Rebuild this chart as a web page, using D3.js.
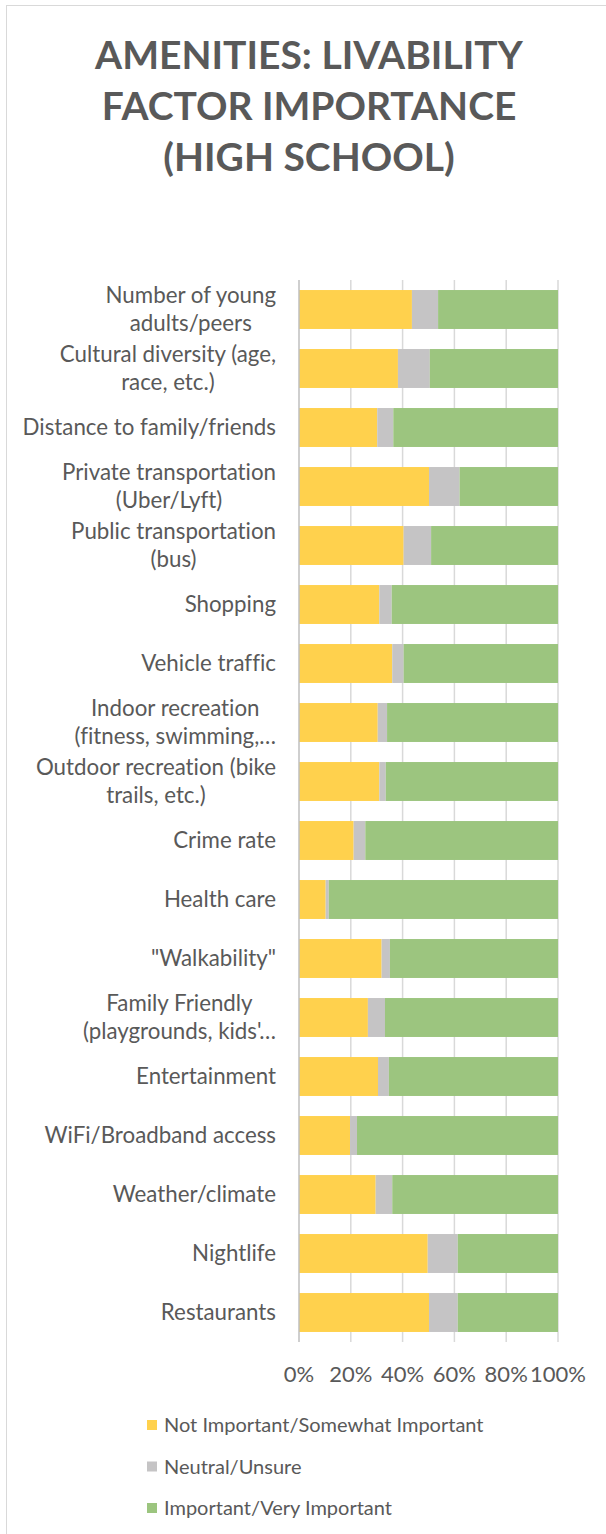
<!DOCTYPE html>
<html>
<head>
<meta charset="utf-8">
<script src="https://cdn.jsdelivr.net/npm/d3@7"></script>
<style>
  body { margin: 0; background: #fff; }
  text { font-family: Lato, "Open Sans", sans-serif; fill: #595959; font-variant-ligatures: none; }
</style>
</head>
<body>
<div id="chart"></div>
<script>
var width = 606;
var height = 1534;

// categories top to bottom, "\n" marks the line break used in the original labels
var categories = [
  "Number of young\nadults/peers",
  "Cultural diversity (age,\nrace, etc.)",
  "Distance to family/friends",
  "Private transportation\n(Uber/Lyft)",
  "Public transportation\n(bus)",
  "Shopping",
  "Vehicle traffic",
  "Indoor recreation\n(fitness, swimming,…",
  "Outdoor recreation (bike\ntrails, etc.)",
  "Crime rate",
  "Health care",
  "\"Walkability\"",
  "Family Friendly\n(playgrounds, kids'…",
  "Entertainment",
  "WiFi/Broadband access",
  "Weather/climate",
  "Nightlife",
  "Restaurants"
];

var notImportant = [43.6, 38.2, 30.2, 50.2, 40.4, 31.0, 36.0, 30.4, 31.0, 21.1, 10.3, 31.9, 26.6, 30.5, 19.7, 29.6, 49.7, 50.2];
var neutral      = [10.1, 12.3,  6.2, 11.8, 10.6,  4.8,  4.4,  3.6,  2.5,  4.5,  1.2,  3.2,  6.6,  4.2,  2.7,  6.4, 11.6, 11.1];
var important    = [46.3, 49.5, 63.6, 38.0, 49.0, 64.2, 59.6, 66.0, 66.5, 74.4, 88.5, 64.9, 66.8, 65.3, 77.6, 64.0, 38.7, 38.7];

var seriesNames = ["Not Important/Somewhat Important", "Neutral/Unsure", "Important/Very Important"];
var seriesColors = ["#FFD14D", "#C5C4C5", "#9CC57F"];
var xTicks = [0, 20, 40, 60, 80, 100];

var rows = categories.map(function (c, i) {
  return { cat: c, a: notImportant[i], b: neutral[i], c: important[i] };
});
var keys = ["a", "b", "c"];
var stacked = d3.stack().keys(keys)(rows);

var svg = d3.select("#chart")
  .append("svg")
  .attr("width", width)
  .attr("height", height);

// chart border
svg.append("rect")
  .attr("x", 6.5).attr("y", 5.5)
  .attr("width", 620).attr("height", 1540)
  .attr("fill", "#fff")
  .attr("stroke", "#D9D9D9");

// title
var titleLines = ["AMENITIES: LIVABILITY", "FACTOR IMPORTANCE", "(HIGH SCHOOL)"];
svg.append("g").selectAll("text")
  .data(titleLines)
  .enter()
  .append("text")
  .attr("x", 309)
  .attr("y", function (d, i) { return 55 + i * 51; })
  .attr("dy", "0.35em")
  .attr("text-anchor", "middle")
  .attr("font-size", "39px")
  .attr("font-weight", "bold")
  .text(function (d) { return d; });

var xScale = d3.scaleLinear().domain([0, 100]).range([299, 558]);
var yScale = d3.scaleBand().domain(categories).range([280, 1342])
  .paddingInner(0.34).paddingOuter(0.17);

// gridlines
svg.append("g").selectAll("line")
  .data(xTicks.slice(1))
  .enter()
  .append("line")
  .attr("x1", function (d) { return xScale(d); })
  .attr("x2", function (d) { return xScale(d); })
  .attr("y1", 280).attr("y2", 1342)
  .attr("stroke", "#D9D9D9")
  .attr("stroke-width", 1.5);

// bars
svg.append("g").selectAll("g")
  .data(stacked)
  .enter()
  .append("g")
  .attr("fill", function (d, i) { return seriesColors[i]; })
  .selectAll("rect")
  .data(function (d) { return d; })
  .enter()
  .append("rect")
  .attr("x", function (d) { return xScale(d[0]); })
  .attr("width", function (d) { return xScale(d[1]) - xScale(d[0]); })
  .attr("y", function (d) { return yScale(d.data.cat); })
  .attr("height", yScale.bandwidth());

// category axis line
svg.append("line")
  .attr("x1", xScale(0)).attr("x2", xScale(0))
  .attr("y1", 280).attr("y2", 1342)
  .attr("stroke", "#BFBFBF")
  .attr("stroke-width", 1.5);

// category labels (block right-aligned, lines centred on each other)
var labelRight = 276;
var lineGap = 28;
categories.forEach(function (c) {
  var lines = c.split("\n");
  var g = svg.append("g");
  var texts = g.selectAll("text")
    .data(lines)
    .enter()
    .append("text")
    .attr("y", function (d, i) {
      return yScale(c) + yScale.bandwidth() / 2 + (i - (lines.length - 1) / 2) * lineGap;
    })
    .attr("dy", "0.35em")
    .attr("text-anchor", "middle")
    .attr("font-size", "22.3px")
    .text(function (d) { return d; });
  var w = d3.max(texts.nodes(), function (n) { return n.getComputedTextLength(); });
  texts.attr("x", labelRight - w / 2);
});

// x tick labels
svg.append("g").selectAll("text")
  .data(xTicks)
  .enter()
  .append("text")
  .attr("x", function (d) { return xScale(d); })
  .attr("y", 1374)
  .attr("dy", "0.35em")
  .attr("text-anchor", "middle")
  .attr("font-size", "22px")
  .text(function (d) { return d + "%"; });

// legend
var legend = svg.append("g").selectAll("g")
  .data(seriesNames)
  .enter()
  .append("g")
  .attr("transform", function (d, i) { return "translate(147," + (1425 + i * 41.5) + ")"; });

legend.append("rect")
  .attr("x", 0).attr("y", -5)
  .attr("width", 10).attr("height", 10)
  .attr("fill", function (d, i) { return seriesColors[i]; });

legend.append("text")
  .attr("x", 17)
  .attr("dy", "0.35em")
  .attr("font-size", "20px")
  .text(function (d) { return d; });
</script>
</body>
</html>
